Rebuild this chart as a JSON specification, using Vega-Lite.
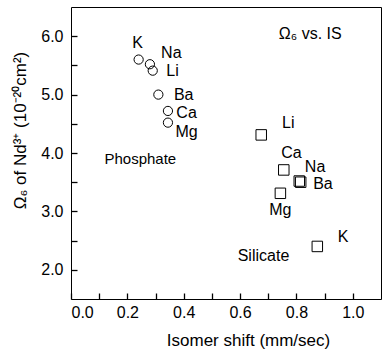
{
  "$schema": "https://vega.github.io/schema/vega-lite/v6.json",
  "autosize": "none",
  "padding": {"left": 71, "top": 7, "right": 1, "bottom": 51},
  "width": 310,
  "height": 292,
  "config": {
    "font": "Liberation Sans",
    "view": {"stroke": "black", "strokeWidth": 1},
    "axis": {"grid": false, "domain": false, "ticks": true, "tickColor": "black", "tickWidth": 1.3, "tickSize": -6, "labelColor": "black", "titleColor": "black", "labelFont": "Liberation Sans", "titleFont": "Liberation Sans", "labelFontSize": 16, "titleFontSize": 17, "titleFontWeight": "normal"}
  },
  "datasets": {
    "pts": [
      {"glass": "Phosphate", "ion": "K", "is": 0.24, "omega": 5.6},
      {"glass": "Phosphate", "ion": "Na", "is": 0.28, "omega": 5.52},
      {"glass": "Phosphate", "ion": "Li", "is": 0.29, "omega": 5.41},
      {"glass": "Phosphate", "ion": "Ba", "is": 0.31, "omega": 5.0},
      {"glass": "Phosphate", "ion": "Ca", "is": 0.344, "omega": 4.72},
      {"glass": "Phosphate", "ion": "Mg", "is": 0.344, "omega": 4.52},
      {"glass": "Silicate", "ion": "Li", "is": 0.675, "omega": 4.31},
      {"glass": "Silicate", "ion": "Ca", "is": 0.755, "omega": 3.71},
      {"glass": "Silicate", "ion": "Na", "is": 0.81, "omega": 3.52},
      {"glass": "Silicate", "ion": "Ba", "is": 0.815, "omega": 3.5},
      {"glass": "Silicate", "ion": "Mg", "is": 0.743, "omega": 3.31},
      {"glass": "Silicate", "ion": "K", "is": 0.874, "omega": 2.4}
    ],
    "labels": [
      {"text": "K", "lx": 0.236, "ly": 5.88, "size": 16},
      {"text": "Na", "lx": 0.356, "ly": 5.71, "size": 16},
      {"text": "Li", "lx": 0.36, "ly": 5.4, "size": 16},
      {"text": "Ba", "lx": 0.40, "ly": 4.99, "size": 16},
      {"text": "Ca", "lx": 0.41, "ly": 4.68, "size": 16},
      {"text": "Mg", "lx": 0.41, "ly": 4.36, "size": 16},
      {"text": "Phosphate", "lx": 0.246, "ly": 3.9, "size": 15},
      {"text": "Li", "lx": 0.771, "ly": 4.51, "size": 16},
      {"text": "Ca", "lx": 0.782, "ly": 4.0, "size": 16},
      {"text": "Na", "lx": 0.866, "ly": 3.76, "size": 16},
      {"text": "Ba", "lx": 0.894, "ly": 3.47, "size": 16},
      {"text": "Mg", "lx": 0.743, "ly": 3.03, "size": 16},
      {"text": "K", "lx": 0.965, "ly": 2.56, "size": 16},
      {"text": "Silicate", "lx": 0.683, "ly": 2.24, "size": 16},
      {"text": "Ω₆ vs. IS", "lx": 0.849, "ly": 6.03, "size": 16}
    ]
  },
  "layer": [
    {
      "data": {"name": "pts"},
      "mark": {"type": "point", "filled": false, "stroke": "black", "strokeWidth": 1, "opacity": 1},
      "encoding": {
        "x": {"field": "is", "type": "quantitative", "scale": {"domain": [0, 1.1], "nice": false, "zero": false},
          "axis": {"orient": "bottom", "tickSize": -6, "title": "Isomer shift  (mm/sec)", "values": [0, 0.1, 0.2, 0.3, 0.4, 0.5, 0.6, 0.7, 0.8, 0.9, 1.0], "labelExpr": "round(datum.value*10)%2==0 ? format(datum.value, '.1f') : ''", "labelPadding": 11, "titleX": 177, "titleY": 41, "titleBaseline": "middle", "titleAlign": "center"}},
        "y": {"field": "omega", "type": "quantitative", "scale": {"domain": [1.5, 6.5], "nice": false, "zero": false},
          "axis": {"orient": "left", "tickSize": -6, "title": "Ω₆ of Nd³⁺ (10⁻²⁰cm²)", "values": [2, 2.5, 3, 3.5, 4, 4.5, 5, 5.5, 6], "labelExpr": "datum.value % 1 == 0 ? format(datum.value, '.1f') : ''", "labelPadding": 14, "titleX": -51, "titleY": 123, "titleAngle": -90, "titleBaseline": "middle", "titleAlign": "center"}},
        "shape": {"field": "glass", "type": "nominal", "scale": {"domain": ["Phosphate", "Silicate"], "range": ["circle", "square"]}, "legend": null},
        "size": {"field": "glass", "type": "nominal", "scale": {"domain": ["Phosphate", "Silicate"], "range": [85, 110]}, "legend": null}
      }
    },
    {
      "data": {"name": "labels"},
      "mark": {"type": "text", "font": "Liberation Sans", "color": "black", "align": "center", "baseline": "middle"},
      "encoding": {
        "x": {"field": "lx", "type": "quantitative", "scale": {"domain": [0, 1.1], "nice": false, "zero": false},
          "axis": {"orient": "bottom", "tickSize": -6, "title": "Isomer shift  (mm/sec)", "values": [0, 0.1, 0.2, 0.3, 0.4, 0.5, 0.6, 0.7, 0.8, 0.9, 1.0], "labelExpr": "round(datum.value*10)%2==0 ? format(datum.value, '.1f') : ''", "labelPadding": 11, "titleX": 177, "titleY": 41, "titleBaseline": "middle", "titleAlign": "center"}},
        "y": {"field": "ly", "type": "quantitative", "scale": {"domain": [1.5, 6.5], "nice": false, "zero": false},
          "axis": {"orient": "left", "tickSize": -6, "title": "Ω₆ of Nd³⁺ (10⁻²⁰cm²)", "values": [2, 2.5, 3, 3.5, 4, 4.5, 5, 5.5, 6], "labelExpr": "datum.value % 1 == 0 ? format(datum.value, '.1f') : ''", "labelPadding": 14, "titleX": -51, "titleY": 123, "titleAngle": -90, "titleBaseline": "middle", "titleAlign": "center"}},
        "text": {"field": "text"},
        "size": {"field": "size", "type": "quantitative", "scale": null}
      }
    }
  ]
}
